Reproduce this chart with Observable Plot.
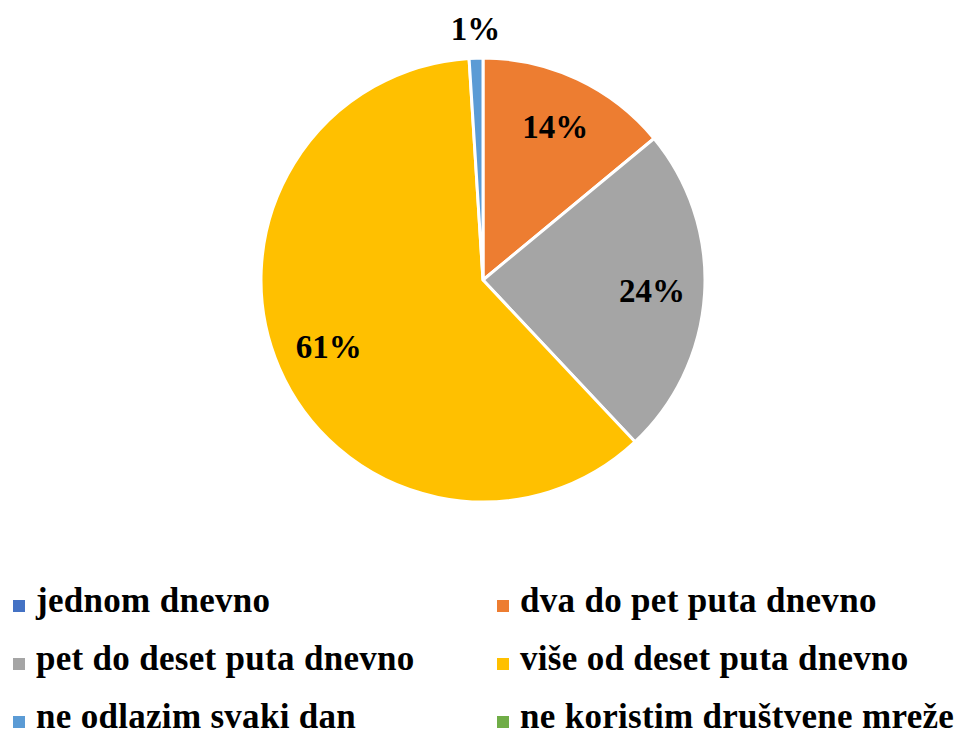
<!DOCTYPE html>
<html>
<head>
<meta charset="utf-8">
<script src="https://cdn.jsdelivr.net/npm/d3@7"></script>
<script src="https://cdn.jsdelivr.net/npm/@observablehq/plot@0.6"></script>
<style>
  html, body { margin: 0; padding: 0; background: #fff; }
  #chart { width: 970px; height: 737px; position: relative; overflow: hidden; }
  .legend { position: absolute; left: 0; top: 572px; width: 970px; display: grid;
    grid-template-columns: 485px 485px; row-gap: 0;
    font-family: "Liberation Serif", "DejaVu Serif Condensed", "DejaVu Serif", serif; font-weight: bold; font-size: 35px; letter-spacing: 0.3px; color: #000; }
  .item { display: flex; align-items: center; height: 58px; white-space: nowrap; }
  .sw { width: 12px; height: 12px; display: inline-block; margin-top: 10px; flex: none; }
  .c0 { padding-left: 13px; }
  .c1 { padding-left: 12px; }
  .item span.t { margin-left: 11px; }
</style>
</head>
<body>
<div id="chart"></div>
<script>
const categories = ["jednom dnevno", "dva do pet puta dnevno", "pet do deset puta dnevno", "više od deset puta dnevno", "ne odlazim svaki dan", "ne koristim društvene mreže"];
const values = [0, 14, 24, 61, 1, 0];
const colors = ["#4472C4", "#ED7D31", "#A5A5A5", "#FFC000", "#5B9BD5", "#70AD47"];

const data = categories.map((c, i) => ({category: c, value: values[i]}));
const arcs = d3.pie().sort(null).value(d => d.value)(data);
const labels = arcs.filter(a => a.data.value > 0).map(a => {
  const mid = (a.startAngle + a.endAngle) / 2;
  const k = a.data.value < 5 ? 1.13 : 0.76;
  return {x: k * Math.sin(mid), y: k * Math.cos(mid), text: a.data.value + "%"};
});

const pieMark = (index, scales, values_, dimensions, context) => {
  const cx = scales.x(0), cy = scales.y(0);
  const r = scales.x(1) - scales.x(0);
  const g = d3.create("svg:g").attr("transform", `translate(${cx},${cy})`);
  const arcGen = d3.arc().innerRadius(0).outerRadius(r);
  g.selectAll("path").data(arcs.filter(a => a.data.value > 0)).join("path")
    .attr("d", arcGen)
    .attr("fill", a => scales.color(a.data.category))
    .attr("stroke", "#fff")
    .attr("stroke-width", 3)
    .attr("stroke-linejoin", "round");
  return g.node();
};

const plot = Plot.plot({
  width: 970,
  height: 560,
  margin: 0,
  x: {domain: [-1, 1], range: [483 - 222, 483 + 222], axis: null},
  y: {domain: [-1, 1], range: [280 + 222, 280 - 222], axis: null},
  color: {domain: categories, range: colors},
  marks: [
    pieMark,
    Plot.text(labels, {x: "x", y: "y", text: "text", fontSize: 33, fontWeight: "bold",
      fontFamily: "'Liberation Serif', 'DejaVu Serif Condensed', 'DejaVu Serif', serif", fill: "#000", textAnchor: "middle", lineAnchor: "middle"})
  ]
});
const chart = document.getElementById("chart");
chart.appendChild(plot);

const legend = document.createElement("div");
legend.className = "legend";
categories.forEach((c, i) => {
  const it = document.createElement("div");
  it.className = "item " + (i % 2 === 0 ? "c0" : "c1");
  const sw = document.createElement("span");
  sw.className = "sw";
  sw.style.background = colors[i];
  const t = document.createElement("span");
  t.className = "t";
  t.textContent = c;
  it.appendChild(sw); it.appendChild(t);
  legend.appendChild(it);
});
chart.appendChild(legend);
</script>
</body>
</html>
